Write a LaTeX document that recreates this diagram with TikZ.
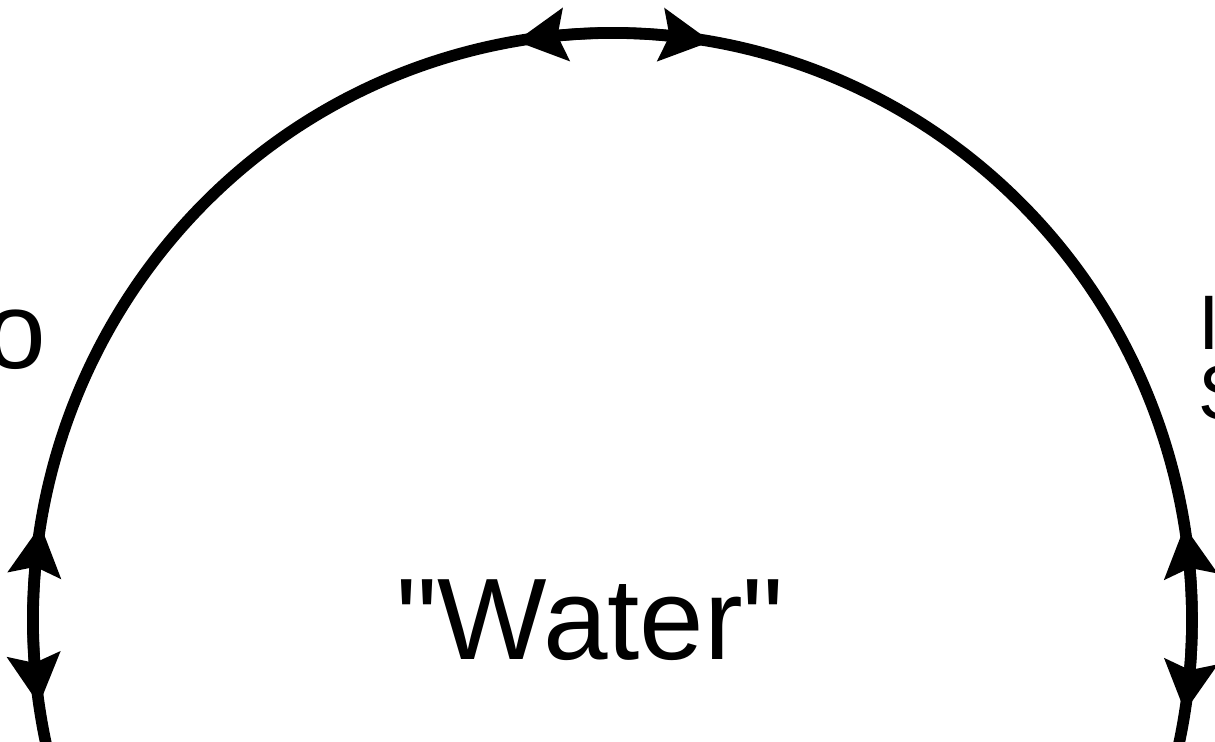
\documentclass[tikz,border=0pt]{standalone}
\usepackage{fontspec}
\setmainfont{Liberation Sans}[Ligatures=TeXOff]
\usetikzlibrary{arrows.meta,bending}

\begin{document}
\begin{tikzpicture}[
  every node/.style={inner sep=0pt, font=\fontsize{33}{39}\selectfont},
  rim/.style={line width=3.3pt},
  flow/.style={rim, {Stealth[length=5mm,width=5.2mm,inset=0.8mm]}-{Stealth[length=5mm,width=5.2mm,inset=0.8mm]}}]
  \useasboundingbox (0,0) rectangle (12.15,7.42);
  \coordinate (ctr) at (6.125,1.22);

  % the rim
  \draw[rim] (ctr) ++(195:5.795 and 5.87) arc[start angle=195, end angle=-15, x radius=5.795, y radius=5.87];

  % exchange arrows on the rim
  \draw[flow] (ctr) ++(99.6:5.795 and 5.87) arc[start angle=99.6, end angle=80.2, x radius=5.795, y radius=5.87];
  \draw[flow] (ctr) ++(170.7:5.795 and 5.87) arc[start angle=170.7, end angle=188.3, x radius=5.795, y radius=5.87];
  \draw[flow] (ctr) ++(9.2:5.795 and 5.87) arc[start angle=9.2, end angle=-9.0, x radius=5.795, y radius=5.87];

  % labels
  \node[anchor=base west] (water) at (3.96,0.82) {"Water"};
  \node[anchor=base west, font=\fontsize{31}{37}\selectfont] (oil) at (-0.15,3.73) {o};
  \node[anchor=base west, font=\fontsize{22}{26}\selectfont] (inner) at (11.98,3.92) {I};
  \node[anchor=base west, font=\fontsize{22}{26}\selectfont] (side) at (11.98,3.22) {S};
\end{tikzpicture}
\end{document}
